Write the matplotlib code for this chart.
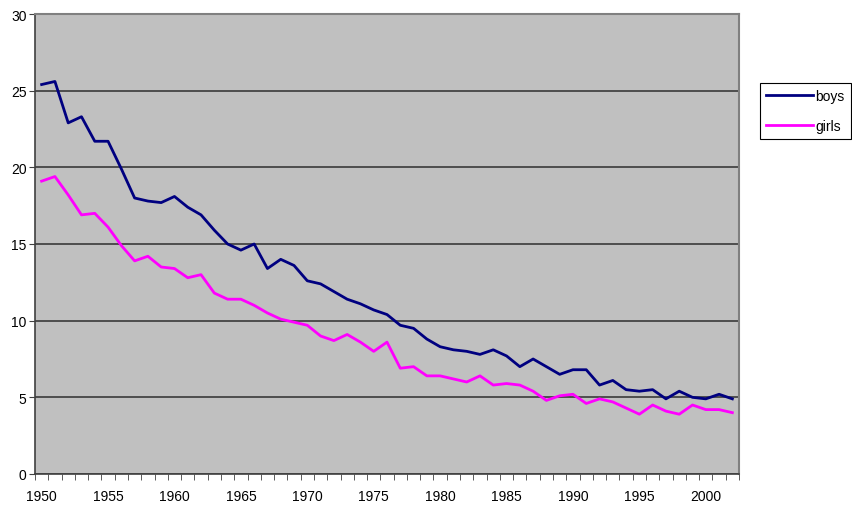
import matplotlib
matplotlib.use("Agg")
import matplotlib.pyplot as plt
import numpy as np

plt.rcParams['font.family'] = ['Liberation Sans', 'DejaVu Sans']

# data
years = list(range(1950, 2003))
boys = [25.4, 25.6, 22.9, 23.3, 21.7, 21.7, 19.9, 18.0, 17.8, 17.7,
        18.1, 17.4, 16.9, 15.9, 15.0, 14.6, 15.0, 13.4, 14.0, 13.6,
        12.6, 12.4, 11.9, 11.4, 11.1, 10.7, 10.4, 9.7, 9.5, 8.8,
        8.3, 8.1, 8.0, 7.8, 8.1, 7.7, 7.0, 7.5, 7.0, 6.5,
        6.8, 6.8, 5.8, 6.1, 5.5, 5.4, 5.5, 4.9, 5.4, 5.0,
        4.9, 5.2, 4.9]
girls = [19.1, 19.4, 18.2, 16.9, 17.0, 16.1, 14.9, 13.9, 14.2, 13.5,
         13.4, 12.8, 13.0, 11.8, 11.4, 11.4, 11.0, 10.5, 10.1, 9.9,
         9.7, 9.0, 8.7, 9.1, 8.6, 8.0, 8.6, 6.9, 7.0, 6.4,
         6.4, 6.2, 6.0, 6.4, 5.8, 5.9, 5.8, 5.4, 4.8, 5.1,
         5.2, 4.6, 4.9, 4.7, 4.3, 3.9, 4.5, 4.1, 3.9, 4.5,
         4.2, 4.2, 4.0]
year_labels = list(range(1950, 2001, 5))
y_ticks = [0, 5, 10, 15, 20, 25, 30]

fig = plt.figure(figsize=(8.53, 5.06), dpi=100)
ax = fig.add_axes([35 / 853, 31 / 506, 704 / 853, 460 / 506])
ax.set_facecolor("#c0c0c0")

ax.plot(years, boys, color="#000080", lw=2.0, label="boys")
ax.plot(years, girls, color="#ff00ff", lw=2.0, label="girls")

ax.set_xlim(years[0] - 0.5, years[-1] + 0.5)
ax.set_ylim(0, 30)
ax.set_yticks(y_ticks)
ax.set_xticks(year_labels)
ax.set_xticks(np.arange(years[0] - 0.5, years[-1] + 1), minor=True)
ax.tick_params(axis="x", which="major", length=0, pad=11, labelsize=10)
ax.tick_params(axis="x", which="minor", length=4, direction="out", color="#404040")
ax.tick_params(axis="y", length=4, direction="out", color="#404040", labelsize=10, pad=2)

ax.grid(axis="y", color="#3a3a3a", lw=1.2)
ax.set_axisbelow(True)
for side in ["left", "bottom"]:
    ax.spines[side].set_color("#404040")
    ax.spines[side].set_linewidth(1.2)
for side in ["right", "top"]:
    ax.spines[side].set_color("#808080")
    ax.spines[side].set_linewidth(1.5)

leg = fig.legend(loc="upper left", bbox_to_anchor=(760 / 853, 1 - 84 / 506),
                 fontsize=10, handlelength=3.4, handletextpad=0.15,
                 borderaxespad=0, fancybox=False, framealpha=1,
                 edgecolor="black", borderpad=0.45, labelspacing=1.15)
leg.get_frame().set_linewidth(0.8)

fig.savefig("out.png", dpi=100)
